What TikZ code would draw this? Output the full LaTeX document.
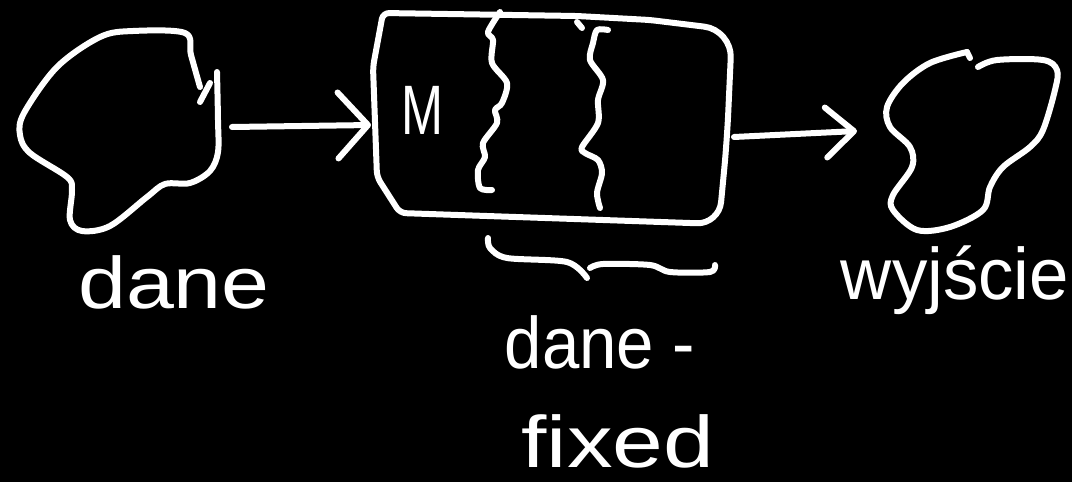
\documentclass[tikz,border=0pt]{standalone}
\usepackage{fontspec}
\setmainfont{Liberation Sans}
\usetikzlibrary{arrows.meta}
\tikzset{
  ink/.style={draw=white, line width=6pt, line cap=round, line join=round},
  lbl/.style={text=white, inner sep=0pt, font=\fontsize{73}{80}\selectfont},
  arrL/.style={ink, -{Straight Barb[length=30pt, width=66pt, round]}},
  arrR/.style={ink, -{Straight Barb[length=28pt, width=50pt, round]}}
}
\begin{document}
\begin{tikzpicture}[x=1pt, y=-1pt]
\useasboundingbox (0,0) rectangle (1072,482);
\fill[black] (0,0) rectangle (1072,482);

% left blob (input)
\draw[ink] plot[smooth, tension=0.55] coordinates {(200,87) (191,55) (185,33) (133,31) (100,37) (57,67) (24,113) (20,135) (30,153) (67,177) (72,190) (70,220) (82,231) (110,226) (147,197) (165,184) (190,183) (210,171) (218,152) (218,120) (217,72)};
\draw[ink] (200,102) -- (210,83);
\coordinate (blobL) at (232,127);

% box
\draw[ink, rounded corners=6pt] (383,13) -- (577,16) -- (650,20)
  [rounded corners=28pt] -- (732,30) -- (727,140)
  [rounded corners=22pt] -- (719,224)
  [rounded corners=6pt] -- (400,213) -- (377,177) -- (373,67) -- cycle;
\coordinate (boxW) at (371,125);
\coordinate (boxE) at (734,137);
\node[lbl] (M) at (422,110) {\scalebox{0.72}[1]{\fontsize{70}{70}\selectfont M}};

% wavy dividers
\draw[ink] plot[smooth, tension=0.5] coordinates {(500,12) (488,32) (493,40) (492,63) (507,83) (502,103) (495,110) (497,123) (483,143) (485,157) (478,170) (480,188) (492,190)};
\draw[ink] plot[smooth, tension=0.5] coordinates {(608,30) (597,30) (593,43) (590,60) (603,80) (598,100) (598,123) (582,147) (585,153) (598,160) (602,173) (597,193) (600,208)};
\draw[ink] (577,22) -- (582,28);

% brace under the box
\draw[ink] plot[smooth, tension=0.5] coordinates {(488,238) (490,248) (507,258) (567,262) (587,278)};
\draw[ink] plot[smooth, tension=0.5] coordinates {(590,268) (603,264) (650,265) (670,272) (710,272) (715,265)};

% right blob (output)
\draw[ink] plot[smooth, tension=0.55] coordinates {(967,52) (930,63) (903,83) (887,107) (890,127) (910,147) (912,167) (893,195) (893,210) (917,230) (950,227) (983,210) (990,187) (1003,167) (1030,147) (1043,130) (1055,90) (1057,70) (1043,60) (997,60) (978,67)};
\draw[ink] (967,52) -- (970,58);
\coordinate (blobR) at (857,131);

% connectors
\draw[arrL] (blobL) -- (boxW);
\draw[arrR] (boxE) -- (blobR);

% labels
\node[lbl] (inlbl) at (174,282) {\scalebox{1.18}[1]{dane}};
\node[lbl] (fix1) at (600,342) {\scalebox{0.92}[1]{dane -}};
\node[lbl] (fix2) at (618,441) {\scalebox{1.25}[1]{fixed}};
\node[lbl] (outlbl) at (955,280) {\scalebox{0.97}[1]{wyjście}};
\end{tikzpicture}
\end{document}
